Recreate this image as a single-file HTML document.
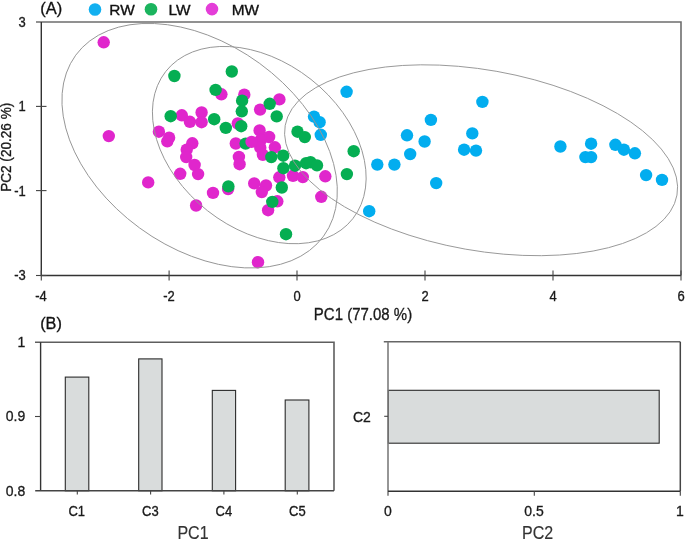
<!DOCTYPE html>
<html><head><meta charset="utf-8"><style>
html,body{margin:0;padding:0;background:#fff;width:685px;height:541px;overflow:hidden;}
svg{display:block;will-change:transform;font-family:"Liberation Sans",sans-serif;}
</style></head><body>
<svg width="685" height="541" viewBox="0 0 685 541"><circle cx="346.6" cy="91.8" r="6.2" fill="#02ADEF"/><circle cx="314.0" cy="116.6" r="6.2" fill="#02ADEF"/><circle cx="319.6" cy="122.2" r="6.2" fill="#02ADEF"/><circle cx="320.8" cy="134.8" r="6.2" fill="#02ADEF"/><circle cx="430.9" cy="119.9" r="6.2" fill="#02ADEF"/><circle cx="407.0" cy="135.3" r="6.2" fill="#02ADEF"/><circle cx="424.6" cy="141.5" r="6.2" fill="#02ADEF"/><circle cx="410.2" cy="154.1" r="6.2" fill="#02ADEF"/><circle cx="377.3" cy="164.6" r="6.2" fill="#02ADEF"/><circle cx="394.4" cy="164.6" r="6.2" fill="#02ADEF"/><circle cx="482.4" cy="101.9" r="6.2" fill="#02ADEF"/><circle cx="472.3" cy="133.4" r="6.2" fill="#02ADEF"/><circle cx="464.1" cy="149.7" r="6.2" fill="#02ADEF"/><circle cx="476.0" cy="150.6" r="6.2" fill="#02ADEF"/><circle cx="560.4" cy="146.5" r="6.2" fill="#02ADEF"/><circle cx="591.1" cy="143.7" r="6.2" fill="#02ADEF"/><circle cx="585.4" cy="157.1" r="6.2" fill="#02ADEF"/><circle cx="591.1" cy="157.1" r="6.2" fill="#02ADEF"/><circle cx="615.4" cy="144.8" r="6.2" fill="#02ADEF"/><circle cx="623.9" cy="149.7" r="6.2" fill="#02ADEF"/><circle cx="634.9" cy="153.3" r="6.2" fill="#02ADEF"/><circle cx="646.1" cy="175.1" r="6.2" fill="#02ADEF"/><circle cx="662.0" cy="179.9" r="6.2" fill="#02ADEF"/><circle cx="436.2" cy="183.1" r="6.2" fill="#02ADEF"/><circle cx="369.2" cy="211.2" r="6.2" fill="#02ADEF"/><circle cx="103.7" cy="42.3" r="6.2" fill="#E026CC"/><circle cx="108.8" cy="136.1" r="6.2" fill="#E026CC"/><circle cx="148.2" cy="182.4" r="6.2" fill="#E026CC"/><circle cx="158.9" cy="131.7" r="6.2" fill="#E026CC"/><circle cx="169.1" cy="137.7" r="6.2" fill="#E026CC"/><circle cx="167.3" cy="141.3" r="6.2" fill="#E026CC"/><circle cx="181.8" cy="115.3" r="6.2" fill="#E026CC"/><circle cx="189.9" cy="121.8" r="6.2" fill="#E026CC"/><circle cx="201.6" cy="112.5" r="6.2" fill="#E026CC"/><circle cx="201.6" cy="122.2" r="6.2" fill="#E026CC"/><circle cx="192.3" cy="143.3" r="6.2" fill="#E026CC"/><circle cx="186.7" cy="149.7" r="6.2" fill="#E026CC"/><circle cx="186.2" cy="157.1" r="6.2" fill="#E026CC"/><circle cx="194.6" cy="165.0" r="6.2" fill="#E026CC"/><circle cx="198.1" cy="174.1" r="6.2" fill="#E026CC"/><circle cx="180.2" cy="173.8" r="6.2" fill="#E026CC"/><circle cx="213.0" cy="192.9" r="6.2" fill="#E026CC"/><circle cx="228.1" cy="189.1" r="6.2" fill="#E026CC"/><circle cx="196.1" cy="205.5" r="6.2" fill="#E026CC"/><circle cx="221.4" cy="94.3" r="6.2" fill="#E026CC"/><circle cx="244.3" cy="94.7" r="6.2" fill="#E026CC"/><circle cx="260.1" cy="109.6" r="6.2" fill="#E026CC"/><circle cx="279.4" cy="99.4" r="6.2" fill="#E026CC"/><circle cx="237.8" cy="123.5" r="6.2" fill="#E026CC"/><circle cx="259.6" cy="130.4" r="6.2" fill="#E026CC"/><circle cx="269.1" cy="137.0" r="6.2" fill="#E026CC"/><circle cx="260.8" cy="140.0" r="6.2" fill="#E026CC"/><circle cx="235.8" cy="143.5" r="6.2" fill="#E026CC"/><circle cx="260.3" cy="147.7" r="6.2" fill="#E026CC"/><circle cx="262.9" cy="154.8" r="6.2" fill="#E026CC"/><circle cx="274.9" cy="147.3" r="6.2" fill="#E026CC"/><circle cx="238.9" cy="156.9" r="6.2" fill="#E026CC"/><circle cx="239.6" cy="164.2" r="6.2" fill="#E026CC"/><circle cx="254.2" cy="183.4" r="6.2" fill="#E026CC"/><circle cx="266.0" cy="185.5" r="6.2" fill="#E026CC"/><circle cx="261.8" cy="192.1" r="6.2" fill="#E026CC"/><circle cx="279.3" cy="177.3" r="6.2" fill="#E026CC"/><circle cx="293.0" cy="175.8" r="6.2" fill="#E026CC"/><circle cx="302.8" cy="177.1" r="6.2" fill="#E026CC"/><circle cx="325.3" cy="176.3" r="6.2" fill="#E026CC"/><circle cx="321.3" cy="196.8" r="6.2" fill="#E026CC"/><circle cx="277.3" cy="201.3" r="6.2" fill="#E026CC"/><circle cx="268.1" cy="210.2" r="6.2" fill="#E026CC"/><circle cx="258.0" cy="262.2" r="6.2" fill="#E026CC"/><circle cx="174.4" cy="76.0" r="6.2" fill="#05AE52"/><circle cx="231.8" cy="71.5" r="6.2" fill="#05AE52"/><circle cx="215.6" cy="89.9" r="6.2" fill="#05AE52"/><circle cx="242.1" cy="100.7" r="6.2" fill="#05AE52"/><circle cx="241.8" cy="111.3" r="6.2" fill="#05AE52"/><circle cx="170.7" cy="116.2" r="6.2" fill="#05AE52"/><circle cx="214.2" cy="119.2" r="6.2" fill="#05AE52"/><circle cx="225.8" cy="127.9" r="6.2" fill="#05AE52"/><circle cx="241.2" cy="126.2" r="6.2" fill="#05AE52"/><circle cx="245.6" cy="143.6" r="6.2" fill="#05AE52"/><circle cx="269.7" cy="103.8" r="6.2" fill="#05AE52"/><circle cx="276.7" cy="116.4" r="6.2" fill="#05AE52"/><circle cx="271.3" cy="157.1" r="6.2" fill="#05AE52"/><circle cx="283.2" cy="155.7" r="6.2" fill="#05AE52"/><circle cx="283.4" cy="168.2" r="6.2" fill="#05AE52"/><circle cx="295.0" cy="165.7" r="6.2" fill="#05AE52"/><circle cx="306.1" cy="163.2" r="6.2" fill="#05AE52"/><circle cx="310.5" cy="162.2" r="6.2" fill="#05AE52"/><circle cx="317.0" cy="165.4" r="6.2" fill="#05AE52"/><circle cx="281.8" cy="187.5" r="6.2" fill="#05AE52"/><circle cx="272.3" cy="201.9" r="6.2" fill="#05AE52"/><circle cx="286.0" cy="234.2" r="6.2" fill="#05AE52"/><circle cx="228.4" cy="186.4" r="6.2" fill="#05AE52"/><circle cx="297.5" cy="131.7" r="6.2" fill="#05AE52"/><circle cx="304.8" cy="137.1" r="6.2" fill="#05AE52"/><circle cx="353.7" cy="151.2" r="6.2" fill="#05AE52"/><circle cx="346.9" cy="174.1" r="6.2" fill="#05AE52"/><circle cx="251.6" cy="141.9" r="6.2" fill="#E026CC"/><ellipse cx="199.63" cy="145.7" rx="153.45" ry="101.85" transform="rotate(36.14 199.63 145.7)" fill="none" stroke="#959595" stroke-width="0.9"/><ellipse cx="259.28" cy="145.08" rx="119.03" ry="83.59" transform="rotate(38.2 259.28 145.08)" fill="none" stroke="#959595" stroke-width="0.9"/><ellipse cx="481.09" cy="160.25" rx="198.96" ry="90.26" transform="rotate(10.08 481.09 160.25)" fill="none" stroke="#959595" stroke-width="0.9"/><path d="M36 22H681V275.5" stroke="#6e6e6e" stroke-width="1.6" fill="none"/><path d="M41.3 22V275.5H681" stroke="#333" stroke-width="1.4" fill="none"/><g stroke="#444" stroke-width="1.1" fill="none"><path d="M36 106.4H46.5"/><path d="M36 190.6H46.5"/><path d="M36 275.5H46.5"/><path d="M41.3 270.5V280.6"/><path d="M169.1 270.5V280.6"/><path d="M297 270.5V280.6"/><path d="M425 270.5V280.6"/><path d="M553 270.5V280.6"/><path d="M681 270.5V280.6"/></g><text font-family="Liberation Sans, sans-serif" font-size="13" transform="translate(25.8 26.9) scale(1.0 1.12)" text-anchor="end" fill="#1a1a1a" stroke="#1a1a1a" stroke-width="0.3">3</text><text font-family="Liberation Sans, sans-serif" font-size="13" transform="translate(25.8 111.30000000000001) scale(1.0 1.12)" text-anchor="end" fill="#1a1a1a" stroke="#1a1a1a" stroke-width="0.3">1</text><text font-family="Liberation Sans, sans-serif" font-size="13" transform="translate(25.8 195.5) scale(1.0 1.12)" text-anchor="end" fill="#1a1a1a" stroke="#1a1a1a" stroke-width="0.3">-1</text><text font-family="Liberation Sans, sans-serif" font-size="13" transform="translate(25.8 280.09999999999997) scale(1.0 1.12)" text-anchor="end" fill="#1a1a1a" stroke="#1a1a1a" stroke-width="0.3">-3</text><text font-family="Liberation Sans, sans-serif" font-size="13" transform="translate(41 300.7) scale(1.0 1.12)" text-anchor="middle" fill="#1a1a1a" stroke="#1a1a1a" stroke-width="0.3">-4</text><text font-family="Liberation Sans, sans-serif" font-size="13" transform="translate(169 300.7) scale(1.0 1.12)" text-anchor="middle" fill="#1a1a1a" stroke="#1a1a1a" stroke-width="0.3">-2</text><text font-family="Liberation Sans, sans-serif" font-size="13" transform="translate(297 300.7) scale(1.0 1.12)" text-anchor="middle" fill="#1a1a1a" stroke="#1a1a1a" stroke-width="0.3">0</text><text font-family="Liberation Sans, sans-serif" font-size="13" transform="translate(425 300.7) scale(1.0 1.12)" text-anchor="middle" fill="#1a1a1a" stroke="#1a1a1a" stroke-width="0.3">2</text><text font-family="Liberation Sans, sans-serif" font-size="13" transform="translate(553 300.7) scale(1.0 1.12)" text-anchor="middle" fill="#1a1a1a" stroke="#1a1a1a" stroke-width="0.3">4</text><text font-family="Liberation Sans, sans-serif" font-size="13" transform="translate(681 300.7) scale(1.0 1.12)" text-anchor="middle" fill="#1a1a1a" stroke="#1a1a1a" stroke-width="0.3">6</text><text font-family="Liberation Sans, sans-serif" font-size="15" transform="translate(363 319.5) scale(1.0 1.1)" text-anchor="middle" fill="#1a1a1a" stroke="#1a1a1a" stroke-width="0.3">PC1 (77.08 %)</text><text font-family="Liberation Sans, sans-serif" font-size="13.6" transform="translate(11.0 147.3) rotate(-90) scale(1.0 1.1)" text-anchor="middle" fill="#1a1a1a" stroke="#1a1a1a" stroke-width="0.3">PC2 (20.26 %)</text><text font-family="Liberation Sans, sans-serif" font-size="16.5" transform="translate(40.2 13.9) scale(1.0 1.05)" text-anchor="start" fill="#111" stroke="#111" stroke-width="0.3">(A)</text><circle cx="95" cy="9.5" r="6.3" fill="#12B0F0"/><circle cx="151" cy="9.3" r="6.3" fill="#1BB45E"/><circle cx="212" cy="9.1" r="6.3" fill="#E43ED8"/><g font-family="Liberation Sans, sans-serif" font-size="15.4" fill="#111" stroke="#111" stroke-width="0.35"><text x="109.3" y="15.4">RW</text><text x="168.6" y="15.4">LW</text><text x="231.8" y="15.4">MW</text></g><text font-family="Liberation Sans, sans-serif" font-size="16.3" transform="translate(40.2 329.3) scale(1.0 1.05)" text-anchor="start" fill="#111" stroke="#111" stroke-width="0.3">(B)</text><rect x="65.3" y="377.1" width="23.5" height="113.69999999999999" fill="#D9DCDC" stroke="#2b2b2b" stroke-width="1.1"/><rect x="138.7" y="358.9" width="23.30000000000001" height="131.90000000000003" fill="#D9DCDC" stroke="#2b2b2b" stroke-width="1.1"/><rect x="212.3" y="390.4" width="23.299999999999983" height="100.40000000000003" fill="#D9DCDC" stroke="#2b2b2b" stroke-width="1.1"/><rect x="285.2" y="400.0" width="23.69999999999999" height="90.80000000000001" fill="#D9DCDC" stroke="#2b2b2b" stroke-width="1.1"/><path d="M35 342.2H334V490.7" stroke="#5e5e5e" stroke-width="1.6" fill="none"/><path d="M40.6 342.2V490.7" stroke="#333" stroke-width="1.4" fill="none"/><path d="M35.2 490.7H334" stroke="#444" stroke-width="1.4" fill="none"/><g stroke="#444" stroke-width="1.1" fill="none"><path d="M35 416.5H40.6"/><path d="M77.3 490.7V494.6"/><path d="M150.6 490.7V494.6"/><path d="M223.9 490.7V494.6"/><path d="M297.3 490.7V494.6"/></g><text font-family="Liberation Sans, sans-serif" font-size="14" transform="translate(25.2 347.0) scale(1.0 1.08)" text-anchor="end" fill="#1a1a1a" stroke="#1a1a1a" stroke-width="0.3">1</text><text font-family="Liberation Sans, sans-serif" font-size="14" transform="translate(25.2 421.3) scale(1.0 1.08)" text-anchor="end" fill="#1a1a1a" stroke="#1a1a1a" stroke-width="0.3">0.9</text><text font-family="Liberation Sans, sans-serif" font-size="14" transform="translate(25.2 495.6) scale(1.0 1.08)" text-anchor="end" fill="#1a1a1a" stroke="#1a1a1a" stroke-width="0.3">0.8</text><text font-family="Liberation Sans, sans-serif" font-size="13" transform="translate(76.7 516.1) scale(1.0 1.12)" text-anchor="middle" fill="#1a1a1a" stroke="#1a1a1a" stroke-width="0.3">C1</text><text font-family="Liberation Sans, sans-serif" font-size="13" transform="translate(150.3 516.1) scale(1.0 1.12)" text-anchor="middle" fill="#1a1a1a" stroke="#1a1a1a" stroke-width="0.3">C3</text><text font-family="Liberation Sans, sans-serif" font-size="13" transform="translate(223.8 516.1) scale(1.0 1.12)" text-anchor="middle" fill="#1a1a1a" stroke="#1a1a1a" stroke-width="0.3">C4</text><text font-family="Liberation Sans, sans-serif" font-size="13" transform="translate(297.3 516.1) scale(1.0 1.12)" text-anchor="middle" fill="#1a1a1a" stroke="#1a1a1a" stroke-width="0.3">C5</text><text font-family="Liberation Sans, sans-serif" font-size="16" transform="translate(193 538.9) scale(1.0 1.1)" text-anchor="middle" fill="#333" stroke="#333" stroke-width="0.15">PC1</text><rect x="388.3" y="390.3" width="270.90000000000003" height="52.89999999999998" fill="#D9DCDC" stroke="#2b2b2b" stroke-width="1.1"/><path d="M383.8 341.8H680.3" stroke="#666" stroke-width="1.6" fill="none"/><path d="M680.3 341.8V491.3" stroke="#444" stroke-width="1.5" fill="none"/><path d="M388 341.8V495.8" stroke="#7c7c7c" stroke-width="1.6" fill="none"/><path d="M388 491.3H680.3" stroke="#333" stroke-width="1.4" fill="none"/><g stroke="#444" stroke-width="1.1" fill="none"><path d="M384.2 416.3H388"/><path d="M534.3 491.3V495.8"/><path d="M680.3 491.3V495.8"/></g><text font-family="Liberation Sans, sans-serif" font-size="14" transform="translate(388 516.1) scale(1.0 1.08)" text-anchor="middle" fill="#1a1a1a" stroke="#1a1a1a" stroke-width="0.3">0</text><text font-family="Liberation Sans, sans-serif" font-size="14" transform="translate(534 516.1) scale(1.0 1.08)" text-anchor="middle" fill="#1a1a1a" stroke="#1a1a1a" stroke-width="0.3">0.5</text><text font-family="Liberation Sans, sans-serif" font-size="14" transform="translate(680 516.1) scale(1.0 1.08)" text-anchor="middle" fill="#1a1a1a" stroke="#1a1a1a" stroke-width="0.3">1</text><text font-family="Liberation Sans, sans-serif" font-size="14" transform="translate(370.8 422.0) scale(1.0 1.1)" text-anchor="end" fill="#1a1a1a" stroke="#1a1a1a" stroke-width="0.3">C2</text><text font-family="Liberation Sans, sans-serif" font-size="16" transform="translate(537.6 539.1) scale(1.0 1.1)" text-anchor="middle" fill="#333" stroke="#333" stroke-width="0.15">PC2</text></svg>
</body></html>
